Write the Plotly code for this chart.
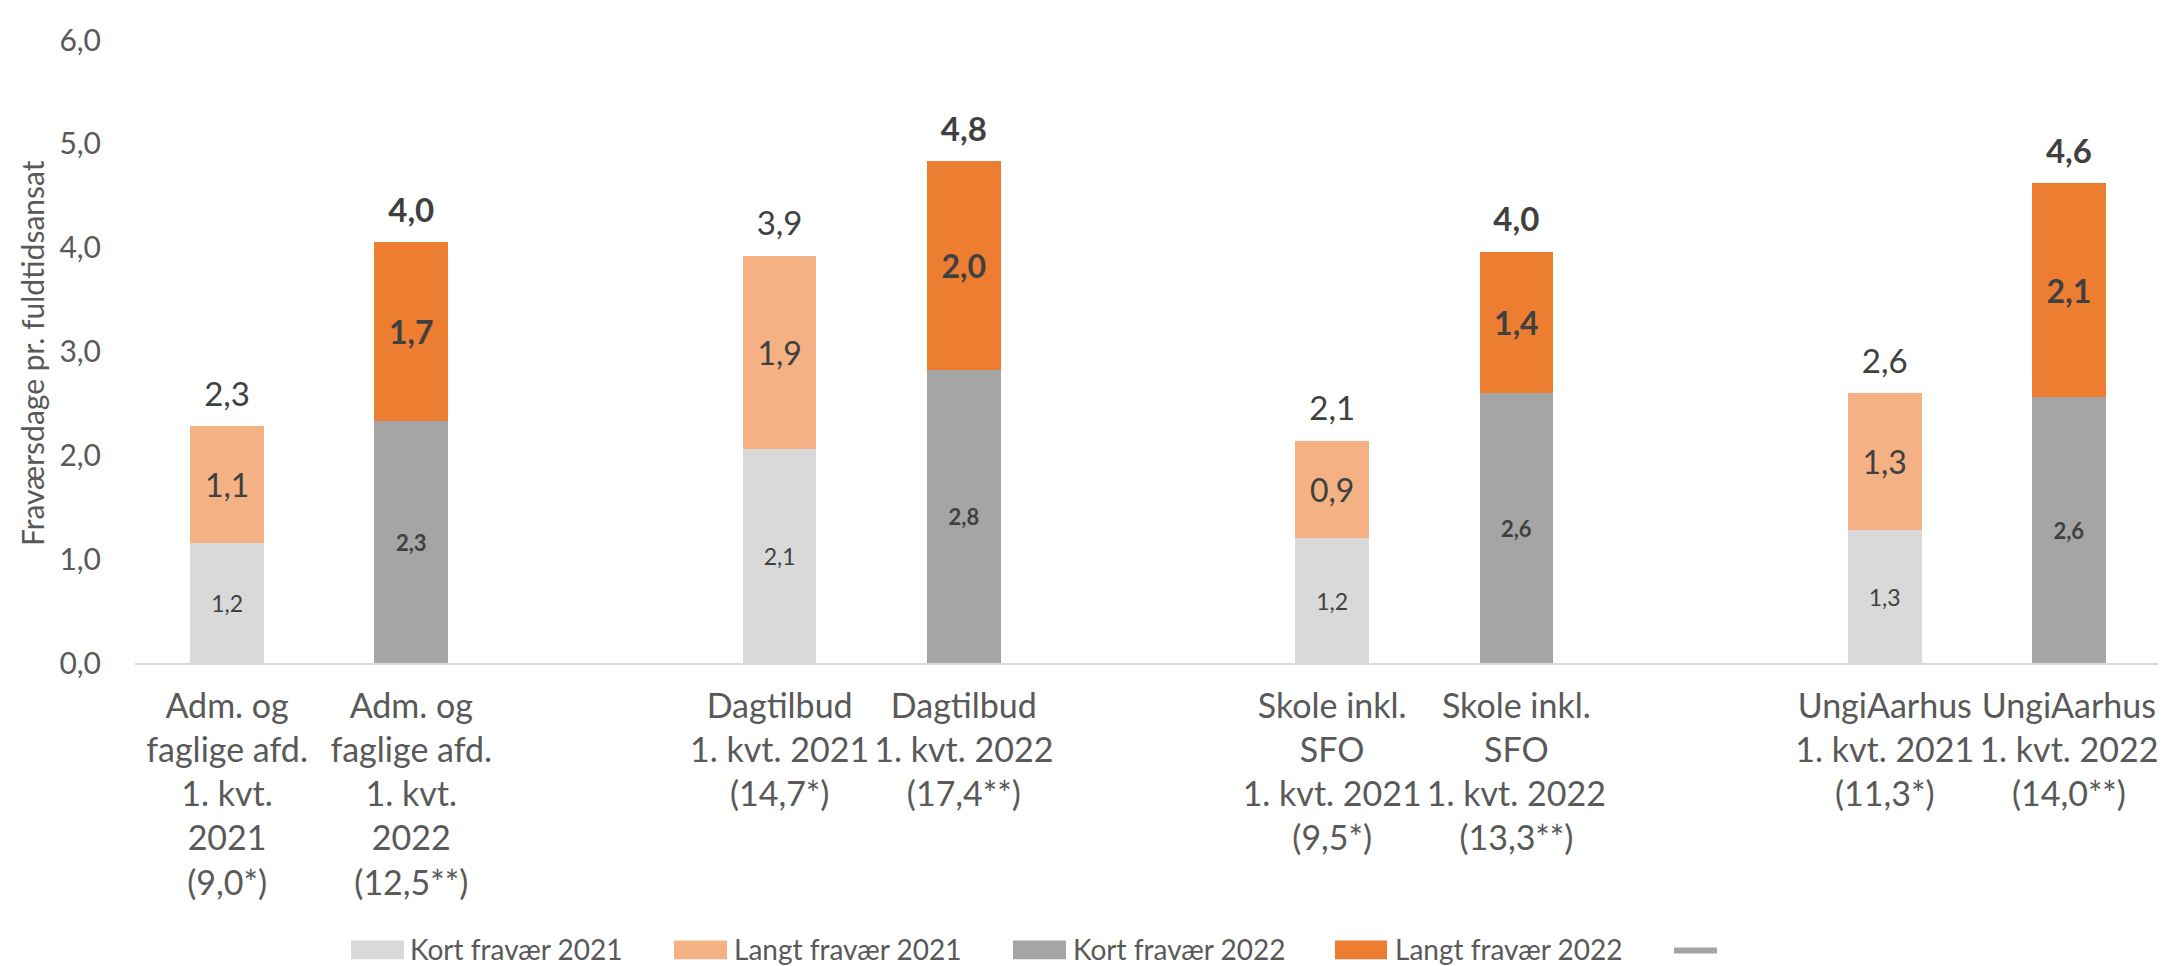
import plotly.graph_objects as go

# ---------------- data ----------------
groups = ["Adm. og faglige afd.", "Dagtilbud", "Skole inkl. SFO", "UngiAarhus"]
labels_2021 = [
    "Adm. og<br>faglige afd.<br>1. kvt.<br>2021<br>(9,0*)",
    "Dagtilbud<br>1. kvt. 2021<br>(14,7*)",
    "Skole inkl.<br>SFO<br>1. kvt. 2021<br>(9,5*)",
    "UngiAarhus<br>1. kvt. 2021<br>(11,3*)",
]
labels_2022 = [
    "Adm. og<br>faglige afd.<br>1. kvt.<br>2022<br>(12,5**)",
    "Dagtilbud<br>1. kvt. 2022<br>(17,4**)",
    "Skole inkl.<br>SFO<br>1. kvt. 2022<br>(13,3**)",
    "UngiAarhus<br>1. kvt. 2022<br>(14,0**)",
]
kort_2021 = [1.16, 2.06, 1.20, 1.28]
langt_2021 = [1.12, 1.86, 0.94, 1.32]
kort_2022 = [2.33, 2.82, 2.60, 2.56]
langt_2022 = [1.72, 2.01, 1.36, 2.06]

series_names = ["Kort fravær 2021", "Langt fravær 2021", "Kort fravær 2022", "Langt fravær 2022"]
colors = ["#D9D9D9", "#F4B183", "#A5A5A5", "#ED7D31"]
total_color = "#A5A5A5"

y_ticks = [0, 1, 2, 3, 4, 5, 6]
y_title = "Fraværsdage pr. fuldtidsansat"

# ---------------- layout constants ----------------
W, H = 2166, 966
ML, MR, MT, MB = 127, 13, 22, 311
PW, PH = W - ML - MR, H - MT - MB
FONT = "Lato, 'Open Sans', sans-serif"
TXT = "#404040"
AX = "#595959"

# slot positions: 2 bars per group, one empty slot between groups
pos_2021 = [g * 3 for g in range(len(groups))]
pos_2022 = [g * 3 + 1 for g in range(len(groups))]

tot_2021 = [a + b for a, b in zip(kort_2021, langt_2021)]
tot_2022 = [a + b for a, b in zip(kort_2022, langt_2022)]

fig = go.Figure()

BW = 0.4
def bar(x, y, name, col, tmpl, size):
    return go.Bar(x=x, y=y, name=name, width=BW,
                  marker=dict(color=col, line=dict(width=0)),
                  texttemplate=tmpl, textposition="inside", insidetextanchor="middle",
                  textangle=0, constraintext="none",
                  textfont=dict(family=FONT, size=size, color=TXT), showlegend=False)

fig.add_trace(bar(pos_2021, kort_2021, series_names[0], colors[0], "%{y:.1f}", 23))
fig.add_trace(bar(pos_2021, langt_2021, series_names[1], colors[1], "%{y:.1f}", 32))
fig.add_trace(bar(pos_2022, kort_2022, series_names[2], colors[2], "<b>%{y:.1f}</b>", 22))
fig.add_trace(bar(pos_2022, langt_2022, series_names[3], colors[3], "<b>%{y:.1f}</b>", 32))

# totals (invisible markers lift the labels above the bar tops)
fig.add_trace(go.Scatter(x=pos_2021, y=tot_2021, mode="markers+text",
                         marker=dict(size=18, opacity=0),
                         text=[f"{v:.1f}".replace(".", ",") for v in tot_2021],
                         textposition="top center",
                         textfont=dict(family=FONT, size=33, color=TXT), showlegend=False))
fig.add_trace(go.Scatter(x=pos_2022, y=tot_2022, mode="markers+text",
                         marker=dict(size=18, opacity=0),
                         text=[f"<b>{v:.1f}</b>".replace(".", ",") for v in tot_2022],
                         textposition="top center",
                         textfont=dict(family=FONT, size=33, color=TXT), showlegend=False))

# tick labels
tickvals = []
ticktext = []
for g in range(len(groups)):
    tickvals += [pos_2021[g], pos_2022[g]]
    ticktext += [labels_2021[g], labels_2022[g]]

fig.update_layout(
    width=W, height=H,
    margin=dict(l=ML, r=MR, t=MT, b=MB),
    paper_bgcolor="white", plot_bgcolor="white",
    barmode="stack",
    separators=",.",
    showlegend=False,
    font=dict(family=FONT, color=AX),
)
fig.update_xaxes(range=[-0.5, 10.5], tickvals=tickvals, ticktext=ticktext,
                 tickfont=dict(family=FONT, size=34, color=AX),
                 showline=True, linecolor="#D9D9D9", linewidth=2,
                 showgrid=False, zeroline=False, ticks="", ticklabelstandoff=12)
fig.update_yaxes(range=[0, 6], tickvals=y_ticks, tickformat=".1f",
                 tickfont=dict(family=FONT, size=30, color=AX),
                 showgrid=False, zeroline=False, showline=False, ticks="",
                 ticklabelstandoff=33)

# y axis title
fig.add_annotation(text=y_title, xref="paper", yref="paper",
                   x=(24 - ML) / PW, y=(MT + PH - 340) / PH, xanchor="center", yanchor="middle",
                   textangle=-90, showarrow=False,
                   font=dict(family=FONT, size=30, color=AX))

# manual legend
def px(xp):
    return (xp - ML) / PW

def py(yp):
    return (MT + PH - yp) / PH

leg_y = 946
leg_items = [(343, 396, 400), (666, 719, 724), (1005, 1058, 1063), (1327, 1379, 1385)]
for (x0, x1, tx), name, col in zip(leg_items, series_names, colors):
    fig.add_shape(type="rect", xref="paper", yref="paper",
                  x0=px(x0), x1=px(x1), y0=py(leg_y + 10), y1=py(leg_y - 9),
                  fillcolor=col, line=dict(width=0))
    fig.add_annotation(text=name, xref="paper", yref="paper", x=px(tx), y=py(leg_y),
                       xanchor="left", yanchor="middle", showarrow=False,
                       font=dict(family=FONT, size=28, color=AX))
fig.add_shape(type="line", xref="paper", yref="paper",
              x0=px(1666), x1=px(1709), y0=py(leg_y + 1), y1=py(leg_y + 1),
              line=dict(color=total_color, width=6))

fig.write_html("out.html")
